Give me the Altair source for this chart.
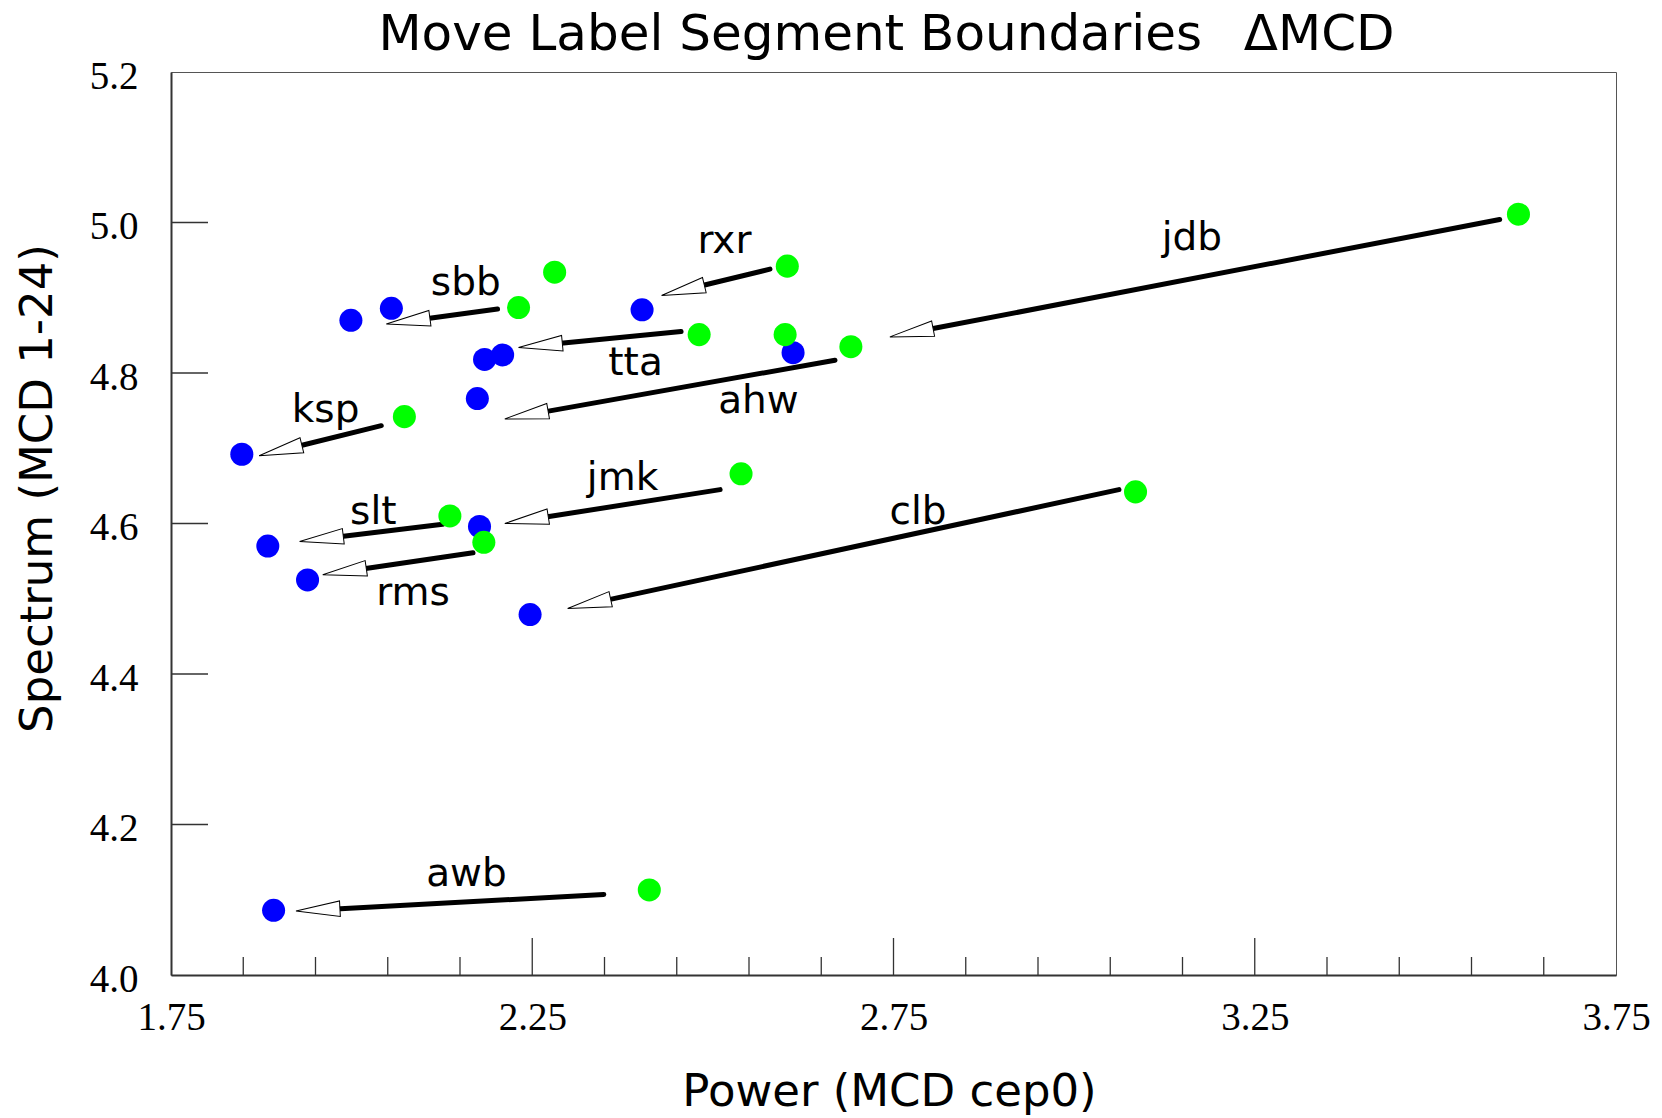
import math
import altair as alt
import pandas as pd

# ---------------- data ----------------
W, H = 1445, 903
X_DOMAIN = [1.75, 3.75]
Y_DOMAIN = [4.0, 5.2]

blue_x = [1.999, 2.055, 2.402, 2.184, 2.209, 2.611, 2.174, 1.848, 1.884, 2.177, 1.939, 2.247, 1.892]
blue_y = [4.870, 4.886, 4.884, 4.818, 4.824, 4.827, 4.766, 4.692, 4.570, 4.596, 4.525, 4.479, 4.086]
green_x = [2.281, 2.603, 2.231, 2.481, 2.600, 2.691, 2.073, 2.539, 2.136, 2.183, 3.085, 3.615, 2.412]
green_y = [4.934, 4.942, 4.887, 4.851, 4.851, 4.835, 4.742, 4.666, 4.610, 4.575, 4.642, 5.011, 4.113]

arrow_labels = ["rxr", "sbb", "jdb", "tta", "ahw", "ksp", "jmk", "slt", "rms", "clb", "awb"]
tail_x = [2.579, 2.202, 3.589, 2.456, 2.669, 2.041, 2.510, 2.126, 2.168, 3.062, 2.349]
tail_y = [4.938, 4.885, 5.004, 4.855, 4.817, 4.730, 4.645, 4.599, 4.561, 4.645, 4.107]
head_x = [2.429, 2.048, 2.745, 2.231, 2.212, 1.872, 2.212, 1.928, 1.960, 2.299, 1.923]
head_y = [4.903, 4.865, 4.848, 4.834, 4.739, 4.690, 4.600, 4.576, 4.532, 4.487, 4.085]
label_x = [2.516, 2.158, 3.163, 2.393, 2.563, 1.964, 2.375, 2.030, 2.085, 2.784, 2.159]
label_y = [4.975, 4.920, 4.979, 4.813, 4.763, 4.751, 4.661, 4.615, 4.507, 4.615, 4.134]

x_label_values = [1.75, 2.25, 2.75, 3.25, 3.75]
y_label_values = [4.0, 4.2, 4.4, 4.6, 4.8, 5.0, 5.2]
y_tick_values = [4.2, 4.4, 4.6, 4.8, 5.0]
x_major_ticks = [2.25, 2.75, 3.25]
x_minor_ticks = [1.85, 1.95, 2.05, 2.15, 2.35, 2.45, 2.55, 2.65,
                 2.85, 2.95, 3.05, 3.15, 3.35, 3.45, 3.55, 3.65]

TITLE = "Move Label Segment Boundaries\u00a0\u00a0\u2009\u0394MCD"
X_TITLE = "Power (MCD cep0)"
Y_TITLE = "Spectrum (MCD 1-24)"

# ---------------- derived arrow geometry ----------------
PX = W / (X_DOMAIN[1] - X_DOMAIN[0])
PY = H / (Y_DOMAIN[1] - Y_DOMAIN[0])
HEAD_LEN = 44
angles, end_x, end_y = [], [], []
for tx, ty, hx, hy in zip(tail_x, tail_y, head_x, head_y):
    dxp = (tx - hx) * PX
    dyp = -(ty - hy) * PY
    L = math.hypot(dxp, dyp)
    angles.append(math.degrees(math.atan2(dyp, dxp)) % 360)
    end_x.append(hx + dxp / L * (HEAD_LEN - 4) / PX)
    end_y.append(hy - dyp / L * (HEAD_LEN - 4) / PY)

arrows = pd.DataFrame({
    "label": arrow_labels, "tx": tail_x, "ty": tail_y,
    "hx": head_x, "hy": head_y, "ex": end_x, "ey": end_y,
    "angle": angles, "lx": label_x, "ly": label_y,
})
blue = pd.DataFrame({"x": blue_x, "y": blue_y})
green = pd.DataFrame({"x": green_x, "y": green_y})

# ---------------- scales / axes ----------------
xs = alt.Scale(domain=X_DOMAIN, nice=False, zero=False)
ys = alt.Scale(domain=Y_DOMAIN, nice=False, zero=False)

x_axis = alt.Axis(
    title=X_TITLE, values=x_label_values, format=".2f", grid=False,
    ticks=False, tickSize=0, domain=True, domainColor="#333333", domainWidth=2,
    labelFont="Liberation Serif", labelFontSize=39, labelColor="black",
    labelBaseline="alphabetic", labelPadding=54, labelFlush=False, labelOverlap=False,
    titleFont="DejaVu Sans", titleFontSize=45, titleFontWeight="normal", titleColor="black",
    titleBaseline="alphabetic", titleY=130, titleX=718,
)
y_axis = alt.Axis(
    title=Y_TITLE, values=y_label_values, format=".1f", grid=False,
    ticks=False, tickSize=0, domain=True, domainColor="#333333", domainWidth=2,
    labelFont="Liberation Serif", labelFontSize=39, labelColor="black",
    labelBaseline="alphabetic", labelOffset=16, labelPadding=33, labelFlush=False,
    labelOverlap=False,
    titleFont="DejaVu Sans", titleFontSize=45, titleFontWeight="normal", titleColor="black",
    titleBaseline="alphabetic", titleAngle=270, titleAlign="center", titleX=-120, titleY=416,
)


def X(field):
    return alt.X(field, type="quantitative", scale=xs, axis=x_axis)


def Y(field):
    return alt.Y(field, type="quantitative", scale=ys, axis=y_axis)


# ---------------- layers ----------------
y_ticks = alt.Chart(pd.DataFrame({"v": y_tick_values})).mark_rule(
    color="#333333", strokeWidth=1.3
).encode(y=Y("v"), x=alt.value(0), x2=alt.value(37))

x_major = alt.Chart(pd.DataFrame({"v": x_major_ticks})).mark_rule(
    color="#333333", strokeWidth=1.3
).encode(x=X("v"), y=alt.value(H), y2=alt.value(H - 37))

x_minor = alt.Chart(pd.DataFrame({"v": x_minor_ticks})).mark_rule(
    color="#333333", strokeWidth=1.3
).encode(x=X("v"), y=alt.value(H), y2=alt.value(H - 18))

shafts = alt.Chart(arrows).mark_rule(
    color="black", strokeWidth=5, strokeCap="round"
).encode(x=X("tx"), y=Y("ty"), x2="ex", y2="ey")

heads = alt.Chart(arrows).mark_point(
    shape="M0,0L2,-0.354L2,0.354Z", filled=True, fill="white", stroke="black",
    strokeWidth=1, opacity=1, size=HEAD_LEN ** 2,
).encode(x=X("hx"), y=Y("hy"), angle=alt.Angle("angle:Q", scale=None))

blue_pts = alt.Chart(blue).mark_circle(
    color="#0000ff", size=531, opacity=1
).encode(x=X("x"), y=Y("y"))

green_pts = alt.Chart(green).mark_circle(
    color="#00ff00", size=531, opacity=1
).encode(x=X("x"), y=Y("y"))

labels = alt.Chart(arrows).mark_text(
    font="DejaVu Sans", fontSize=39, color="black", baseline="middle", align="center"
).encode(x=X("lx"), y=Y("ly"), text="label:N")

title = alt.Chart(pd.DataFrame({"t": [TITLE]})).mark_text(
    font="DejaVu Sans", fontSize=50, color="black", baseline="alphabetic", align="center"
).encode(x=alt.value(W / 2 - 7), y=alt.value(-22), text="t:N")

chart = alt.layer(
    y_ticks, x_major, x_minor, shafts, heads, blue_pts, green_pts, labels, title
).properties(
    width=W, height=H,
    autosize=alt.AutoSizeParams(type="none"),
    padding={"left": 163, "top": 64, "right": 38, "bottom": 143},
).configure_view(
    stroke="#555555", strokeWidth=1
)

chart.save("out.html", embed_options={"renderer": "svg", "actions": False})
